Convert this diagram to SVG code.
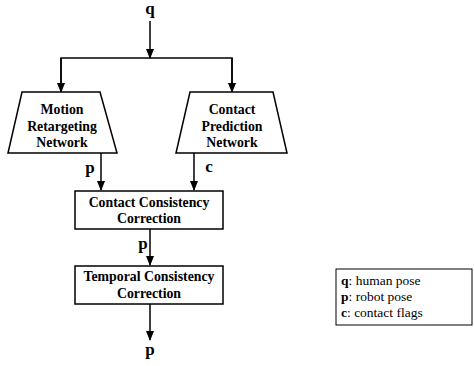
<svg xmlns="http://www.w3.org/2000/svg" width="474" height="366" viewBox="0 0 474 366">
<defs>
<marker id="ah" markerWidth="10" markerHeight="8" refX="9" refY="4" orient="auto" markerUnits="userSpaceOnUse">
<path d="M0,0 L10,4 L0,8 Z" fill="#000"/>
</marker>
<style>
.shape{fill:#fff;stroke:#000;stroke-width:1.5}
.lbl{font-family:"Liberation Serif","Times New Roman",serif;font-weight:bold;font-size:13.8px;text-anchor:middle;fill:#000}
.var{font-family:"Liberation Serif","Times New Roman",serif;font-weight:bold;font-size:17px;text-anchor:middle;fill:#000}
.wire{fill:none;stroke:#000;stroke-width:1.5}
.arr{marker-end:url(#ah)}
.leg{font-family:"Liberation Serif","Times New Roman",serif;font-size:13.5px;fill:#000}
</style>
</defs>
<rect width="474" height="366" fill="#fff"/>
<g id="connectors">
<line class="wire arr" x1="150" y1="21" x2="150" y2="58"/>
<polyline class="wire" points="61,92 61,58 232,58 232,92"/>
<line class="wire arr" x1="61" y1="58" x2="61" y2="92"/>
<line class="wire arr" x1="232" y1="58" x2="232" y2="92"/>
<line class="wire arr" x1="101" y1="153" x2="101" y2="190"/>
<line class="wire arr" x1="194" y1="153" x2="194" y2="190"/>
<line class="wire arr" x1="150" y1="229" x2="150" y2="265"/>
<line class="wire arr" x1="150" y1="304" x2="150" y2="340"/>
<text class="var" x="150" y="14">q</text>
<text class="var" x="90" y="173">p</text>
<text class="var" x="209" y="172">c</text>
<text class="var" x="143" y="249">p</text>
<text class="var" x="150" y="355">p</text>
</g>
<g id="motion">
<polygon class="shape" points="22,92 100,92 117,153 8,153"/>
<text class="lbl" x="62" y="114">Motion</text>
<text class="lbl" x="62" y="131">Retargeting</text>
<text class="lbl" x="62" y="147">Network</text>
</g>
<g id="contact">
<polygon class="shape" points="190,92 273,92 287,153 176,153"/>
<text class="lbl" x="232" y="114">Contact</text>
<text class="lbl" x="232" y="131">Prediction</text>
<text class="lbl" x="232" y="147">Network</text>
</g>
<g id="ccc">
<rect class="shape" x="75" y="191" width="148" height="38"/>
<text class="lbl" x="149" y="207">Contact Consistency</text>
<text class="lbl" x="149" y="223">Correction</text>
</g>
<g id="tcc">
<rect class="shape" x="75" y="266" width="148" height="38"/>
<text class="lbl" x="149" y="281">Temporal Consistency</text>
<text class="lbl" x="149" y="298">Correction</text>
</g>
<g id="legend">
<rect x="336" y="269" width="136" height="56" fill="#fff" stroke="#000" stroke-width="1"/>
<text class="leg" x="341" y="285"><tspan font-weight="bold">q</tspan>: human pose</text>
<text class="leg" x="341" y="301"><tspan font-weight="bold">p</tspan>: robot pose</text>
<text class="leg" x="341" y="317"><tspan font-weight="bold">c</tspan>: contact flags</text>
</g>
</svg>
